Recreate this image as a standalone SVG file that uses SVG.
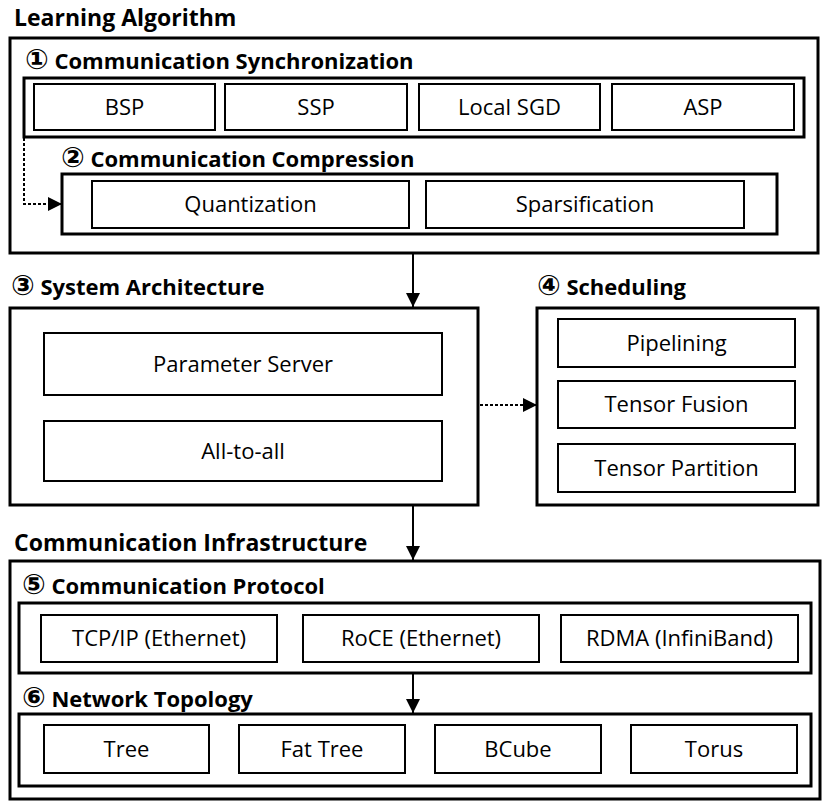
<svg xmlns="http://www.w3.org/2000/svg" width="830" height="811" viewBox="0 0 830 811">
<defs>
<marker id="ah" markerUnits="userSpaceOnUse" markerWidth="14" markerHeight="14" viewBox="0 0 14 14" refX="14" refY="7" orient="auto">
<path d="M0,0 L14,7 L0,14 Z" fill="#000"/>
</marker>
</defs>
<style>
.outer{fill:#fff;stroke:#000;stroke-width:3}
.cont{fill:#fff;stroke:#000;stroke-width:3}
.box{fill:#fff;stroke:#000;stroke-width:2}
.h{font-family:"Open Sans","DejaVu Sans",sans-serif;font-weight:bold;font-size:22px;fill:#000}
.top{font-size:23px}
.n{font-family:"DejaVu Sans",sans-serif;font-size:28px;font-weight:bold}
.t{font-family:"Open Sans","DejaVu Sans",sans-serif;font-size:22px;fill:#000;text-anchor:middle}
.ln{fill:none;stroke:#000;stroke-width:2}
.dot{fill:none;stroke:#000;stroke-width:2;stroke-dasharray:3 2}
</style>
<rect width="830" height="811" fill="#fff"/>

<g id="learning-algorithm">
<text class="h top" x="14" y="26">Learning Algorithm</text>
<rect class="outer" x="10" y="38" width="808" height="215"/>
</g>
<g id="sync">
<text class="h" x="25" y="69"><tspan class="n">①</tspan> Communication Synchronization</text>
<rect class="cont" x="24" y="78" width="780" height="59"/>
</g>
<g id="bsp"><rect class="box" x="34" y="84" width="181" height="46"/><text class="t" x="124.5" y="114.5">BSP</text></g>
<g id="ssp"><rect class="box" x="225" y="84" width="182" height="46"/><text class="t" x="316" y="114.5">SSP</text></g>
<g id="localsgd"><rect class="box" x="419" y="84" width="181" height="46"/><text class="t" x="509.5" y="114.5">Local SGD</text></g>
<g id="asp"><rect class="box" x="612" y="84" width="182" height="46"/><text class="t" x="703" y="114.5">ASP</text></g>

<g id="compression">
<text class="h" x="61" y="167"><tspan class="n">②</tspan> Communication Compression</text>
<rect class="cont" x="62" y="174" width="715" height="60"/>
</g>
<g id="quantization"><rect class="box" x="92" y="181" width="317" height="47"/><text class="t" x="250.5" y="212">Quantization</text></g>
<g id="sparsification"><rect class="box" x="426" y="181" width="318" height="47"/><text class="t" x="585" y="212">Sparsification</text></g>

<g id="system-architecture">
<text class="h" x="11" y="295"><tspan class="n">③</tspan> System Architecture</text>
<rect class="outer" x="10" y="308" width="468" height="197"/>
</g>
<g id="parameter-server"><rect class="box" x="44" y="333" width="398" height="62"/><text class="t" x="243" y="371.5">Parameter Server</text></g>
<g id="all-to-all"><rect class="box" x="44" y="421" width="398" height="60"/><text class="t" x="243" y="458.5">All-to-all</text></g>

<g id="scheduling">
<text class="h" x="537" y="295"><tspan class="n">④</tspan> Scheduling</text>
<rect class="outer" x="537" y="308" width="281" height="197"/>
</g>
<g id="pipelining"><rect class="box" x="558" y="319" width="237" height="48"/><text class="t" x="676.5" y="350.5">Pipelining</text></g>
<g id="tensor-fusion"><rect class="box" x="558" y="381" width="237" height="47"/><text class="t" x="676.5" y="412">Tensor Fusion</text></g>
<g id="tensor-partition"><rect class="box" x="558" y="444" width="237" height="48"/><text class="t" x="676.5" y="475.5">Tensor Partition</text></g>

<g id="communication-infrastructure">
<text class="h top" x="14" y="551">Communication Infrastructure</text>
<rect class="outer" x="10" y="561" width="810" height="238"/>
</g>
<g id="protocol">
<text class="h" x="22" y="594"><tspan class="n">⑤</tspan> Communication Protocol</text>
<rect class="cont" x="19" y="603" width="792" height="70"/>
</g>
<g id="tcpip"><rect class="box" x="41" y="615" width="236" height="47"/><text class="t" x="159" y="646">TCP/IP (Ethernet)</text></g>
<g id="roce"><rect class="box" x="303" y="615" width="236" height="47"/><text class="t" x="421" y="646">RoCE (Ethernet)</text></g>
<g id="rdma"><rect class="box" x="561" y="615" width="237" height="47"/><text class="t" x="679.5" y="646">RDMA (InfiniBand)</text></g>

<g id="topology">
<text class="h" x="22" y="707"><tspan class="n">⑥</tspan> Network Topology</text>
<rect class="cont" x="19" y="714" width="792" height="72"/>
</g>
<g id="tree"><rect class="box" x="44" y="725" width="165" height="48"/><text class="t" x="126.5" y="756.5">Tree</text></g>
<g id="fat-tree"><rect class="box" x="239" y="725" width="166" height="48"/><text class="t" x="322" y="756.5">Fat Tree</text></g>
<g id="bcube"><rect class="box" x="435" y="725" width="166" height="48"/><text class="t" x="518" y="756.5">BCube</text></g>
<g id="torus"><rect class="box" x="631" y="725" width="166" height="48"/><text class="t" x="714" y="756.5">Torus</text></g>

<g id="connectors">
<path class="dot" d="M24,138 V204 H62" marker-end="url(#ah)"/>
<path class="ln" d="M413,254 V307" marker-end="url(#ah)"/>
<path class="dot" d="M480,405 H537" marker-end="url(#ah)"/>
<path class="ln" d="M413,506 V560" marker-end="url(#ah)"/>
<path class="ln" d="M413,674 V713" marker-end="url(#ah)"/>
</g>
</svg>
